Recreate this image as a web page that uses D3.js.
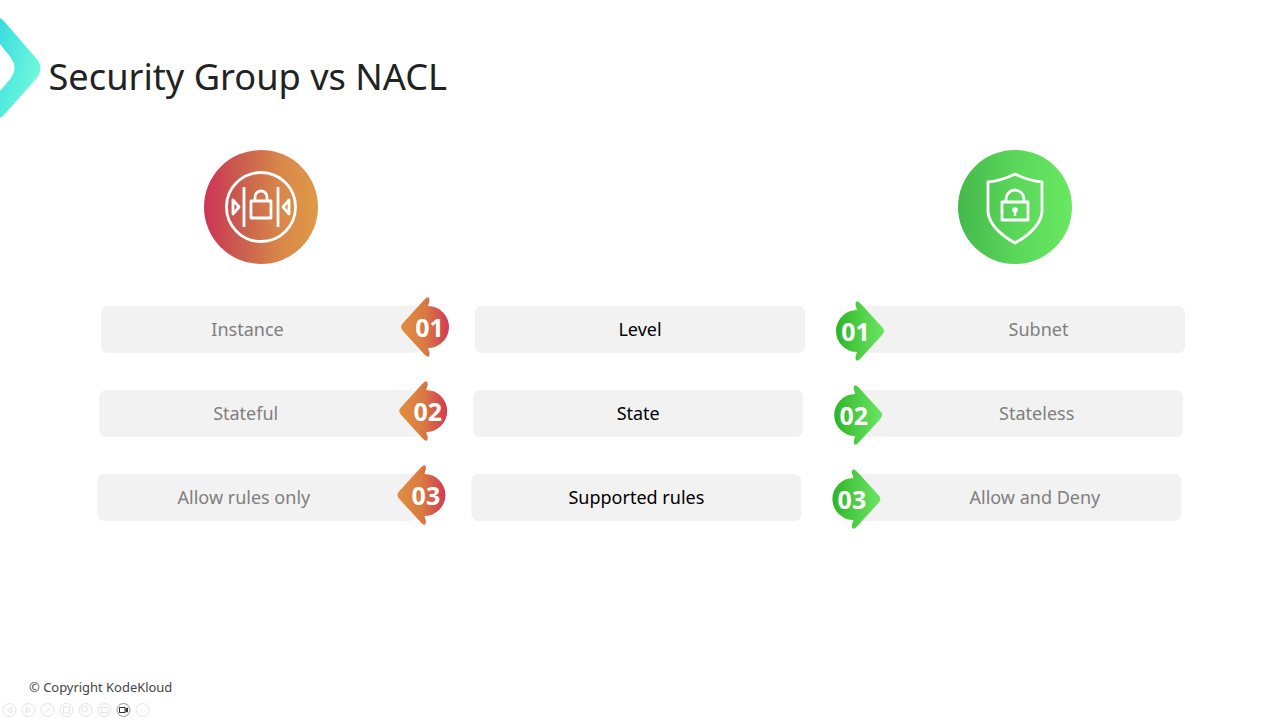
<!DOCTYPE html>
<html><head><meta charset="utf-8">
<script src="https://cdn.jsdelivr.net/npm/d3@7"></script>
<style>html,body{margin:0;background:#fff;overflow:hidden}svg{display:block}text{font-family:"Noto Sans","Open Sans",sans-serif}</style>
</head><body><svg id="c" width="1280" height="720"></svg>
<script>
const titleText = "Security Group vs NACL";
const copyrightText = "© Copyright KodeKloud";
const aspects = ["Level", "State", "Supported rules"];
const securityGroup = ["Instance", "Stateful", "Allow rules only"];
const nacl = ["Subnet", "Stateless", "Allow and Deny"];
const numbers = ["01", "02", "03"];
const controls = [0,1,2,3,4,5,6,7];

const svg = d3.select("#c");
const defs = svg.append("defs");
function grad(id, stops, x1=0, y1=0, x2=1, y2=0){
  const g = defs.append("linearGradient").attr("id",id).attr("x1",x1).attr("y1",y1).attr("x2",x2).attr("y2",y2);
  stops.forEach((c,i)=>g.append("stop").attr("offset",i/(stops.length-1)).attr("stop-color",c));
}
grad("gLogo",["#38dde0","#74fbdc"],0,0,1,.7);
grad("gSG",["#cf3356","#c9604e","#d9864a","#de9a45"]);
grad("gNA",["#45b84b","#5ad75a","#69e862"]);
grad("gArrL",["#e08e40","#d97a42","#d23a52"]);
grad("gArrR",["#2eb326","#4fcf48","#69e562"]);

const rowY = d3.scaleLinear().domain([0,2]).range([329.5,497.5]);
const rowDx = d3.scaleLinear().domain([0,2]).range([0,-3.6]);
const boxH = 47;

// logo
svg.append("path").attr("fill","url(#gLogo)")
  .attr("d","M0,18 L3,20 L36,58 Q45,68 36,79 L3,116 L0,118 L0,91 L11,78 Q18,67 11,58 L0,44 Z");

svg.append("text").attr("x",48.5).attr("y",90).attr("font-size",36.2).attr("fill","#222").text(titleText);

// big icons
const sg = svg.append("g").attr("transform","translate(261,207)");
sg.append("circle").attr("r",57).attr("fill","url(#gSG)");
const w = {fill:"none",stroke:"#fff","stroke-width":2.8,"stroke-linejoin":"round"};
const st = (s)=>{Object.entries(w).forEach(([k,v])=>s.attr(k,v));return s;};
st(sg.append("circle").attr("r",34.5));
st(sg.append("path").attr("d","M-17,-20V20M17,-20V20"));
st(sg.append("rect").attr("x",-10).attr("y",-6).attr("width",20).attr("height",17));
st(sg.append("path").attr("d","M-6,-6V-10A6,6 0 0 1 6,-10V-6"));
st(sg.append("path").attr("d","M-28,-7L-22,0L-28,7Z"));
st(sg.append("path").attr("d","M28,-7L22,0L28,7Z"));

const na = svg.append("g").attr("transform","translate(1015,207)");
na.append("circle").attr("r",57).attr("fill","url(#gNA)");
st(na.append("path").attr("d","M0,-33Q14,-26 27,-25V5Q25,22 0,36Q-25,22 -27,5V-25Q-14,-26 0,-33Z"));
st(na.append("rect").attr("x",-13).attr("y",-5).attr("width",26).attr("height",18));
st(na.append("path").attr("d","M-9,-5V-8A9,9 0 0 1 9,-8V-5"));
na.append("circle").attr("cy",3).attr("r",2.8).attr("fill","#fff");
na.append("rect").attr("x",-1.2).attr("y",3).attr("width",2.4).attr("height",6).attr("fill","#fff");

// boxes
function boxes(data, x0, width, color, cx){
  const g = svg.append("g");
  g.selectAll("rect").data(data).join("rect")
    .attr("x",(d,i)=>x0+rowDx(i)).attr("y",(d,i)=>rowY(i)-boxH/2)
    .attr("width",width).attr("height",boxH).attr("rx",7).attr("fill","#f2f2f2");
  g.selectAll("text").data(data).join("text")
    .attr("x",(d,i)=>cx+rowDx(i)).attr("y",(d,i)=>rowY(i)+6)
    .attr("text-anchor","middle").attr("font-size",18).attr("fill",color).text(d=>d);
}
boxes(securityGroup,101,320,"#7f7f7f",247.5);
boxes(aspects,475,330,"#000",640);
boxes(nacl,855,330,"#7f7f7f",1038.5);

// numbered arrows
function badges(cx, dir, fill, dy){
  const g = svg.append("g");
  const a = g.selectAll("g").data(numbers).join("g")
    .attr("transform",(d,i)=>`translate(${cx+rowDx(i)},${rowY(i)+dy})`);
  a.append("path").attr("fill",`url(#${fill})`)
    .attr("d",`M${dir*25},-4 Q${dir*29},0 ${dir*25},4 L${dir*4},27 Q${-dir*1.5},33 ${-dir*1.5},26 L0,21 A21,21 0 0 ${dir>0?1:0} 0,-21 L${-dir*1.5},-26 Q${-dir*1.5},-33 ${dir*4},-27 Z`);
  a.append("text").attr("text-anchor","middle").attr("y",9.5).attr("x",-dir*1.5)
    .attr("font-size",25).attr("font-weight",700).attr("fill","#fff").text(d=>d);
}
badges(428,-1,"gArrL",-2.5);
badges(857,1,"gArrR",1.5);

svg.append("text").attr("x",29).attr("y",692).attr("font-size",12.95).attr("fill","#444").text(copyrightText);

// faint presentation controls
const cx = d3.scaleLinear().domain([0,7]).range([9.5,142.5]);
const ctl = svg.append("g");
ctl.selectAll("circle").data(controls).join("circle")
  .attr("cx",d=>cx(d)).attr("cy",710).attr("r",6.5).attr("fill","none")
  .attr("stroke",d=>d===6?"#999":"#e4e4e4").attr("stroke-width",1);
const faint = ctl.append("g").attr("fill","none").attr("stroke","#e4e4e4");
faint.append("path").attr("d",`M${cx(0)+2},707L${cx(0)-2},710L${cx(0)+2},713Z`);
faint.append("path").attr("d",`M${cx(1)-2},707L${cx(1)+2},710L${cx(1)-2},713Z`);
faint.append("path").attr("d",`M${cx(2)-3},713L${cx(2)+3},707`);
faint.append("rect").attr("x",cx(3)-3).attr("y",707).attr("width",6).attr("height",6);
faint.append("circle").attr("cx",cx(4)-1).attr("cy",709).attr("r",3);
faint.append("rect").attr("x",cx(5)-3.5).attr("y",707.5).attr("width",7).attr("height",5);
faint.append("path").attr("d",`M${cx(7)-3},710H${cx(7)-2}M${cx(7)-.5},710H${cx(7)+.5}M${cx(7)+2},710H${cx(7)+3}`);
ctl.append("rect").attr("x",cx(6)-4).attr("y",707.5).attr("width",5.5).attr("height",5).attr("fill","none").attr("stroke","#333");
ctl.append("path").attr("d",`M${cx(6)+2},708.5L${cx(6)+4.5},707.5V712.5L${cx(6)+2},711.5Z`).attr("fill","#333");
</script></body></html>
